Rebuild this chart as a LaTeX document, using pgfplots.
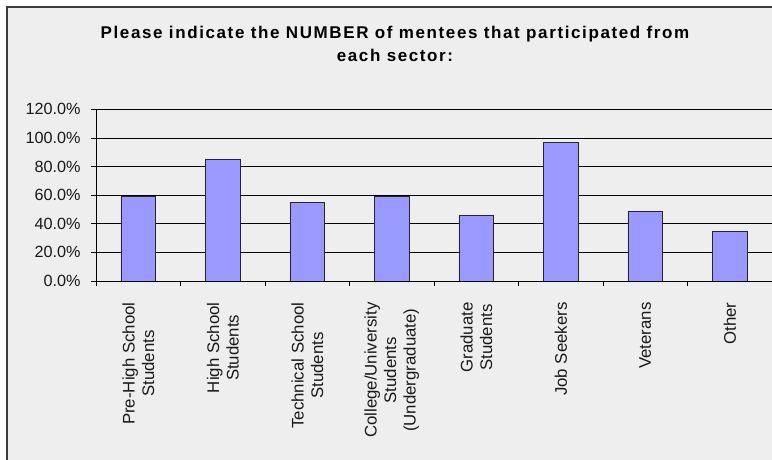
\documentclass[border=0pt]{standalone}
\usepackage{fontspec}
\setmainfont{Liberation Sans}
\usepackage{pgfplots}
\pgfplotsset{compat=1.18}
\definecolor{bgc}{HTML}{EEEEEE}
\definecolor{barc}{HTML}{9999FF}
\definecolor{framec}{HTML}{3C3C3C}
\begin{document}
\begin{tikzpicture}[x=1bp,y=1bp]
\useasboundingbox (0,0) rectangle (772,460);
\fill[white] (0,0) rectangle (772,460);
\filldraw[fill=bgc, draw=framec, line width=2bp] (7,-20) rectangle (800,452.5);
\node[anchor=base, font={\fontsize{17bp}{20bp}\selectfont\bfseries\addfontfeatures{LetterSpace=9.5}}] at (395,421) {Please indicate the NUMBER of mentees that participated from};
\node[anchor=base, font={\fontsize{17bp}{20bp}\selectfont\bfseries\addfontfeatures{LetterSpace=9.5}}] at (395,398) {each sector:};
\begin{axis}[
  at={(96bp,179bp)}, anchor=south west,
  scale only axis, width=676bp, height=171.6bp,
  xmin=-0.5, xmax=7.5, ymin=0, ymax=120,
  axis x line=bottom, axis y line=left,
  axis line style={-, black, line width=0.8bp},
  tick align=outside, major tick length=5bp,
  tick style={black, line width=0.8bp},
  ytick={0,20,...,120},
  yticklabel={\pgfmathprintnumber[fixed,fixed zerofill,precision=1]{\tick}\%},
  /pgf/number format/assume math mode=true,
  yticklabel style={font={\fontsize{16.2bp}{20bp}\selectfont}, color=black!90, xshift=-7bp},
  ymajorgrids, grid style={black, line width=0.8bp},
  xtick={-0.5,0.5,...,7.5}, xticklabels={},
  extra x ticks={0,1,2,3,4,5,6,7},
  extra x tick labels={{Pre-High School\\Students},{High School\\Students},{Technical School\\Students},{College/University\\Students\\(Undergraduate)},{Graduate\\Students},{Job Seekers},{Veterans},{Other}},
  extra x tick style={major tick length=0pt, grid=none,
    tick label style={yshift=-18bp, rotate=90, anchor=east, align=center,
      font={\fontsize{16.8bp}{19.5bp}\selectfont}, color=black!90}},
]
\addplot[ybar, bar width=34.6bp, bar shift=0pt, fill=barc, draw=black!85, line width=0.8bp]
  coordinates {(0,59.2) (1,85.3) (2,54.7) (3,59.2) (4,45.9) (5,96.9) (6,48.9) (7,34.5)};
\end{axis}
\end{tikzpicture}
\end{document}
